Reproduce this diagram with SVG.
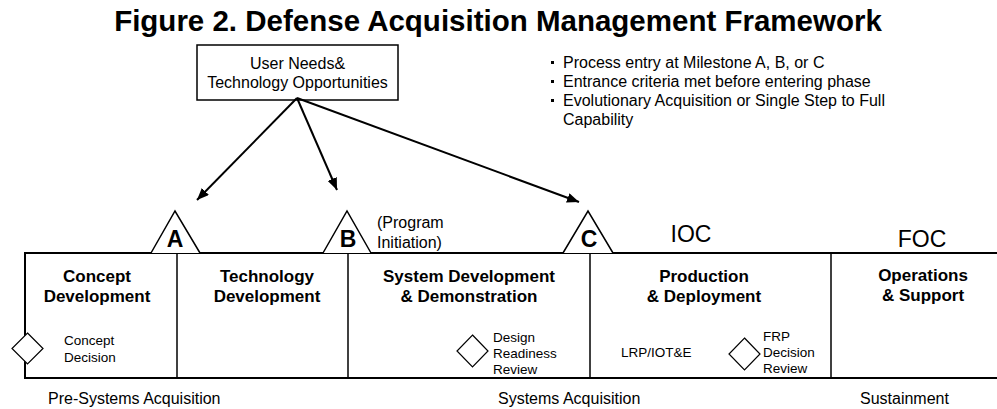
<svg xmlns="http://www.w3.org/2000/svg" width="997" height="409" viewBox="0 0 997 409">
<defs>
<style>
text{font-family:"Liberation Sans",Arial,Helvetica,sans-serif;fill:#000}
.title{font-size:29.5px;font-weight:bold}
.ph{font-size:17px;font-weight:bold;text-anchor:middle}
.sm{font-size:13.5px}
.md{font-size:16px}
.ms{font-size:23px;font-weight:bold;text-anchor:middle}
.cap{font-size:23px;text-anchor:middle}
.frame{fill:none;stroke:#000;stroke-width:2}
.div{stroke:#000;stroke-width:1.5}
.tri{fill:#fff;stroke:#000;stroke-width:1.5}
.dia{fill:#fff;stroke:#000;stroke-width:1.2}
.box{fill:#fff;stroke:#000;stroke-width:1.5}
.arr{stroke:#000;stroke-width:2;fill:none;marker-end:url(#ah)}
</style>
<marker id="ah" viewBox="0 0 12 10" refX="12" refY="5" markerWidth="12" markerHeight="10" markerUnits="userSpaceOnUse" orient="auto">
<path d="M0,0 L12,5 L0,10 Z" fill="#000"/>
</marker>
</defs>
<rect width="997" height="409" fill="#fff"/>
<text class="title" x="498" y="31" text-anchor="middle">Figure 2. Defense Acquisition Management Framework</text>

<g id="user-needs">
<rect class="box" x="197" y="45" width="201" height="55"/>
<text class="md" x="297.5" y="69" text-anchor="middle">User Needs&amp;</text>
<text class="md" x="297.5" y="88" text-anchor="middle">Technology Opportunities</text>
</g>

<g id="notes">
<rect x="551" y="61" width="3" height="3" fill="#000"/>
<text class="md" x="563" y="68">Process entry at Milestone A, B, or C</text>
<rect x="551" y="80" width="3" height="3" fill="#000"/>
<text class="md" x="563" y="87">Entrance criteria met before entering phase</text>
<rect x="551" y="99" width="3" height="3" fill="#000"/>
<text class="md" x="563" y="106">Evolutionary Acquisition or Single Step to Full</text>
<text class="md" x="563" y="125">Capability</text>
</g>

<g id="connectors">
<line class="arr" x1="297" y1="98" x2="197" y2="200"/>
<line class="arr" x1="297" y1="98" x2="337" y2="190"/>
<line class="arr" x1="297" y1="98" x2="579" y2="202"/>
</g>

<g id="frame">
<path class="frame" d="M997,253 H25 V378 H997"/>
<line class="div" x1="177" y1="253" x2="177" y2="378"/>
<line class="div" x1="348" y1="253" x2="348" y2="378"/>
<line class="div" x1="590" y1="253" x2="590" y2="378"/>
<line class="div" x1="831" y1="253" x2="831" y2="378"/>
</g>

<g id="milestone-a">
<path class="tri" d="M151,253 L175,211 L200,253"/>
<text class="ms" x="175" y="247">A</text>
</g>
<g id="milestone-b">
<path class="tri" d="M323,253 L347,211 L371,253"/>
<text class="ms" x="348" y="247">B</text>
<text class="md" x="377" y="228">(Program</text>
<text class="md" x="377" y="248">Initiation)</text>
</g>
<g id="milestone-c">
<path class="tri" d="M563,253 L588,211 L613,253"/>
<text class="ms" x="589" y="247">C</text>
</g>
<g id="ioc"><text class="cap" x="691" y="242">IOC</text></g>
<g id="foc"><text class="cap" x="922" y="247">FOC</text></g>

<g id="concept-development">
<text class="ph" x="97" y="282">Concept</text>
<text class="ph" x="97" y="302">Development</text>
<path class="dia" d="M27.5,333 L43,348.5 L27.5,364 L12,348.5 Z"/>
<text class="sm" x="64" y="345">Concept</text>
<text class="sm" x="64" y="362">Decision</text>
</g>

<g id="technology-development">
<text class="ph" x="267" y="282">Technology</text>
<text class="ph" x="267" y="302">Development</text>
</g>

<g id="system-development">
<text class="ph" x="469" y="282">System Development</text>
<text class="ph" x="469" y="302">&amp; Demonstration</text>
<path class="dia" d="M472.5,335 L488,351 L472.5,367 L457,351 Z"/>
<text class="sm" x="493" y="342">Design</text>
<text class="sm" x="493" y="358">Readiness</text>
<text class="sm" x="493" y="374">Review</text>
</g>

<g id="production-deployment">
<text class="ph" x="704" y="282">Production</text>
<text class="ph" x="704" y="302">&amp; Deployment</text>
<text class="sm" x="621" y="357">LRP/IOT&amp;E</text>
<path class="dia" d="M744.5,338 L760,354 L744.5,370 L729,354 Z"/>
<text class="sm" x="763" y="341">FRP</text>
<text class="sm" x="763" y="357">Decision</text>
<text class="sm" x="763" y="373">Review</text>
</g>

<g id="operations-support">
<text class="ph" x="923" y="281">Operations</text>
<text class="ph" x="923" y="301">&amp; Support</text>
</g>

<g id="phase-groups">
<text class="md" x="48" y="404">Pre-Systems Acquisition</text>
<text class="md" x="498" y="404">Systems Acquisition</text>
<text class="md" x="860" y="404">Sustainment</text>
</g>
</svg>
